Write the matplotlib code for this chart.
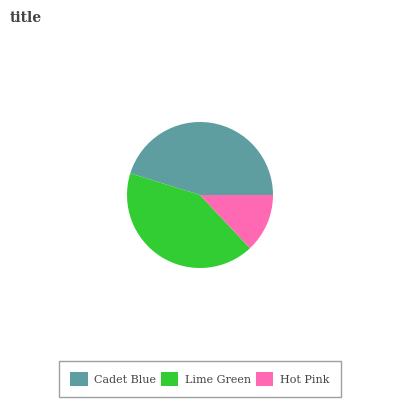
import matplotlib
matplotlib.use("Agg")
import matplotlib.pyplot as plt
from matplotlib.patches import Patch

labels = ["Cadet Blue", "Lime Green", "Hot Pink"]
values = [45.2, 41.8, 13.0]
colors = ["#5f9ea0", "#32cd32", "#ff69b4"]

plt.rcParams['font.family'] = ['DejaVu Serif']

fig = plt.figure(figsize=(4, 4), dpi=100)

# pie centre around (200,195) px, radius ~73 px
cx, cy, r = 200, 195, 73
ax = fig.add_axes([(cx - r) / 400, (400 - cy - r) / 400, 2 * r / 400, 2 * r / 400])
ax.pie(values, colors=colors, startangle=0, counterclock=True, radius=1)
ax.set_xlim(-1, 1)
ax.set_ylim(-1, 1)
ax.set_aspect('equal')
ax.axis('off')

fig.text(0.025, 0.945, "title", fontsize=10, fontweight='bold', color='#444444')

handles = [Patch(facecolor=c, edgecolor='none') for c in colors]
leg = fig.legend(handles, labels, loc='center', bbox_to_anchor=(0.5, 1 - 379 / 400),
                 ncol=3, frameon=True, fancybox=False, fontsize=8,
                 handlelength=1.55, handleheight=1.55, handletextpad=0.6,
                 columnspacing=0.45, borderpad=1.0, labelcolor='#444444')
leg.get_frame().set_edgecolor('#888888')
leg.get_frame().set_linewidth(1.0)

fig.savefig("out.png", dpi=100)
